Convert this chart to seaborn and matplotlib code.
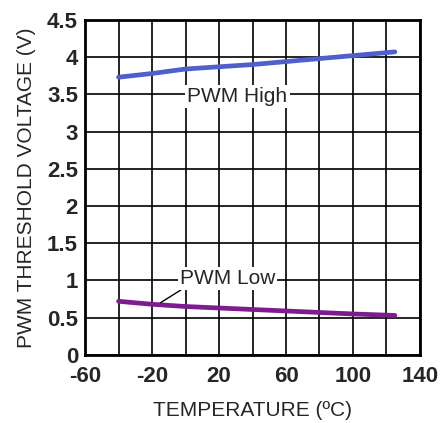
import numpy as np
import matplotlib
matplotlib.use("Agg")
import matplotlib.pyplot as plt
import seaborn as sns
import pandas as pd

# Veri
temps = [-40, -20, 0, 20, 40, 60, 80, 100, 125]
pwm_high = [3.73, 3.78, 3.84, 3.87, 3.90, 3.94, 3.98, 4.02, 4.07]
pwm_low = [0.72, 0.68, 0.65, 0.63, 0.61, 0.59, 0.57, 0.55, 0.53]
x_ticks = [-60, -20, 20, 60, 100, 140]
y_ticks = [0, 0.5, 1, 1.5, 2, 2.5, 3, 3.5, 4, 4.5]

df = pd.DataFrame({"temp": temps, "high": pwm_high, "low": pwm_low})

sns.set_theme(style="white")
plt.rcParams["font.family"] = ["Liberation Sans", "DejaVu Sans"]
plt.rcParams["axes.unicode_minus"] = False

FS = 15
TICK_FS = 16

fig, ax = plt.subplots(figsize=(4.43, 4.23), dpi=100)
fig.subplots_adjust(left=0.192, right=0.948, top=0.953, bottom=0.161)

sns.lineplot(data=df, x="temp", y="high", ax=ax, color="#4f5fcb", linewidth=3.4)
sns.lineplot(data=df, x="temp", y="low", ax=ax, color="#7e1b8f", linewidth=3.4)

ax.set_xlim(-60, 140)
ax.set_ylim(0, 4.5)
ax.set_xticks(np.arange(-60, 141, 20), minor=True)
ax.set_xticks(x_ticks)
ax.set_yticks(y_ticks)
ax.set_yticklabels([f"{v:g}" for v in y_ticks])
ax.grid(True, which="both", color="black", linewidth=1.2)
ax.set_axisbelow(True)
ax.tick_params(which="both", length=0, labelsize=TICK_FS)
ax.tick_params(axis="x", pad=8)
ax.tick_params(axis="y", pad=5)
for lab in ax.get_xticklabels() + ax.get_yticklabels():
    lab.set_fontweight("bold")
for sp in ax.spines.values():
    sp.set_color("black")
    sp.set_linewidth(2)

ax.set_xlabel("TEMPERATURE (ºC)", fontsize=FS, labelpad=10)
ax.set_ylabel("PWM THRESHOLD VOLTAGE (V)", fontsize=FS, labelpad=8)

# Etiketler
ax.text(31, 3.47, "PWM High", fontsize=FS, ha="center", va="center",
        bbox=dict(facecolor="white", edgecolor="none", pad=1.5))
ax.annotate("PWM Low", xy=(-15, 0.70), xytext=(25, 1.03),
            fontsize=FS, ha="center", va="center",
            bbox=dict(facecolor="white", edgecolor="none", pad=1.5),
            arrowprops=dict(arrowstyle="-", color="black", linewidth=1,
                            shrinkA=0, shrinkB=0,
                            relpos=(0.05, 0.0)))

fig.savefig("out.png", dpi=100)
